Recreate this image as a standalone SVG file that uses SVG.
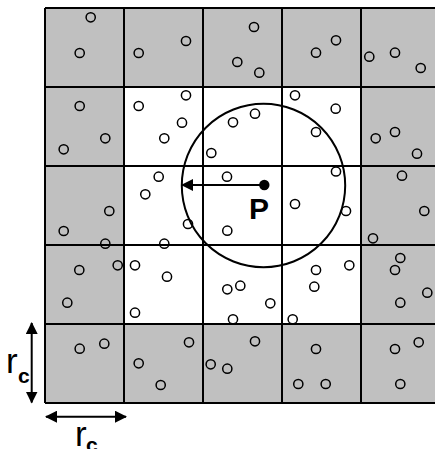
<svg xmlns="http://www.w3.org/2000/svg" width="435" height="449" viewBox="0 0 435 449">
<style>
.g{fill:#c0c0c0}
.w{fill:#fff}
.grid{stroke:#000;stroke-width:2;fill:none}
.p{fill:none;stroke:#000;stroke-width:1.5}
.lbl{font-family:"Liberation Sans",Arial,sans-serif;fill:#000}
</style>
<defs>
<marker id="ah" viewBox="0 0 12 12" refX="11" refY="6" markerWidth="12" markerHeight="12" markerUnits="userSpaceOnUse" orient="auto-start-reverse">
<path d="M0,0 L12,6 L0,12 Z" fill="#000"/>
</marker>
<circle id="pt" r="4.6" class="p"/>
</defs>
<rect x="0" y="0" width="435" height="449" fill="#fff"/>
<g id="cells">
<rect x="45" y="8" width="395" height="395" class="g"/>
<rect x="124" y="87" width="237" height="237" class="w"/>
</g>
<g id="grid" class="grid">
<path d="M45,8V403M124,8V403M203,8V403M282,8V403M361,8V403M440,8V403"/>
<path d="M45,8H440M45,87H440M45,166H440M45,245H440M45,324H440M45,403H440"/>
</g>
<g id="particles">
<use href="#pt" x="90.7" y="17.3"/><use href="#pt" x="79.7" y="53"/>
<use href="#pt" x="138.7" y="53"/><use href="#pt" x="186" y="41"/>
<use href="#pt" x="254" y="27"/><use href="#pt" x="237.3" y="62"/><use href="#pt" x="259.3" y="72.7"/>
<use href="#pt" x="316" y="52.7"/><use href="#pt" x="336" y="40.3"/>
<use href="#pt" x="369.3" y="56.7"/><use href="#pt" x="395" y="52.7"/><use href="#pt" x="420.7" y="68"/>
<use href="#pt" x="79.7" y="106"/><use href="#pt" x="105.3" y="138.3"/><use href="#pt" x="63.7" y="149.3"/>
<use href="#pt" x="138.7" y="106"/><use href="#pt" x="186" y="95.3"/><use href="#pt" x="182" y="122.7"/><use href="#pt" x="164.3" y="138.3"/>
<use href="#pt" x="211.3" y="153"/><use href="#pt" x="233" y="122.3"/><use href="#pt" x="255" y="113.7"/>
<use href="#pt" x="295" y="95.3"/><use href="#pt" x="335.7" y="108.7"/><use href="#pt" x="316" y="132"/>
<use href="#pt" x="375.7" y="138.3"/><use href="#pt" x="395" y="132"/><use href="#pt" x="417" y="153.7"/>
<use href="#pt" x="109.3" y="211"/><use href="#pt" x="63.7" y="231"/><use href="#pt" x="105.3" y="243.7"/>
<use href="#pt" x="158.7" y="176.7"/><use href="#pt" x="145.3" y="194.3"/><use href="#pt" x="188" y="224"/><use href="#pt" x="164.3" y="243.7"/>
<use href="#pt" x="227" y="176.7"/><use href="#pt" x="227.3" y="230.7"/>
<use href="#pt" x="336" y="171.5"/><use href="#pt" x="295" y="204"/><use href="#pt" x="346" y="211"/>
<use href="#pt" x="402" y="175.7"/><use href="#pt" x="424.3" y="211"/><use href="#pt" x="373" y="238.3"/>
<use href="#pt" x="117.7" y="265.3"/><use href="#pt" x="79.3" y="270"/><use href="#pt" x="67.3" y="302.7"/>
<use href="#pt" x="135" y="265.3"/><use href="#pt" x="167" y="276.7"/><use href="#pt" x="135" y="312.7"/>
<use href="#pt" x="227.3" y="289.3"/><use href="#pt" x="240.3" y="285.7"/><use href="#pt" x="270.3" y="303.3"/><use href="#pt" x="233" y="319.3"/>
<use href="#pt" x="316" y="270"/><use href="#pt" x="349.3" y="265.3"/><use href="#pt" x="314.3" y="286.7"/><use href="#pt" x="292.7" y="319.3"/>
<use href="#pt" x="400.3" y="258"/><use href="#pt" x="395" y="270"/><use href="#pt" x="427.3" y="292.7"/><use href="#pt" x="400.3" y="302.7"/>
<use href="#pt" x="79.7" y="348.7"/><use href="#pt" x="104.3" y="343.7"/>
<use href="#pt" x="138.7" y="363.3"/><use href="#pt" x="189" y="342.3"/><use href="#pt" x="160.7" y="385"/>
<use href="#pt" x="210.7" y="364.3"/><use href="#pt" x="227.3" y="368.7"/><use href="#pt" x="255" y="341.3"/>
<use href="#pt" x="316" y="349"/><use href="#pt" x="298.3" y="384"/><use href="#pt" x="325.7" y="384"/>
<use href="#pt" x="395" y="349"/><use href="#pt" x="418.7" y="342.3"/><use href="#pt" x="400.3" y="384"/>
</g>
<g id="P">
<circle cx="263.5" cy="185.5" r="81.7" fill="none" stroke="#000" stroke-width="2"/>
<circle cx="264.3" cy="185" r="5.2" fill="#000"/>
<text x="249" y="219" class="lbl" font-size="30" font-weight="bold">P</text>
</g>
<g id="connectors" stroke="#000" stroke-width="2" fill="none">
<line x1="264" y1="185" x2="182" y2="185" marker-end="url(#ah)"/>
<line x1="31.7" y1="323" x2="31.7" y2="402.5" marker-start="url(#ah)" marker-end="url(#ah)"/>
<line x1="46" y1="416.7" x2="126" y2="416.7" marker-start="url(#ah)" marker-end="url(#ah)"/>
</g>
<g id="labels" class="lbl">
<text x="6" y="373.3" font-size="35">r</text>
<text x="18" y="383.3" font-size="21" font-weight="bold">c</text>
<text x="75" y="446" font-size="35">r</text>
<text x="86" y="452" font-size="21" font-weight="bold">c</text>
</g>
</svg>
